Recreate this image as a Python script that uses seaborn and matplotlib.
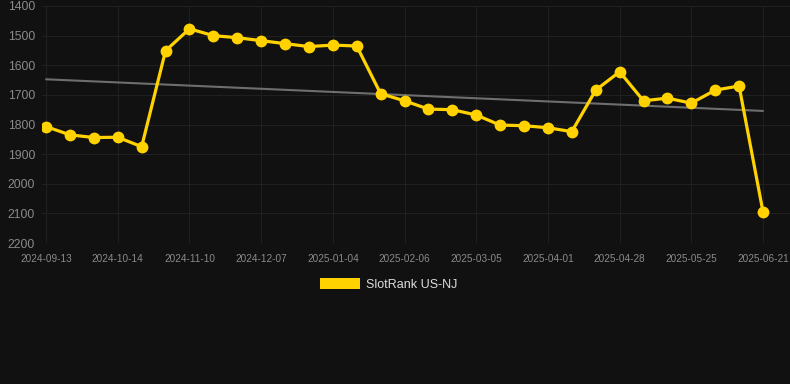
import numpy as np
import pandas as pd
import matplotlib
matplotlib.use('Agg')
import matplotlib.pyplot as plt
from matplotlib.patches import Patch
import seaborn as sns

# 数据
tick_labels = ['2024-09-13', '2024-10-14', '2024-11-10', '2024-12-07', '2025-01-04',
               '2025-02-06', '2025-03-05', '2025-04-01', '2025-04-28', '2025-05-25',
               '2025-06-21']
rank = [1807, 1835, 1844, 1843, 1875, 1551, 1477, 1500, 1507, 1517,
        1527, 1537, 1532, 1535, 1696, 1720, 1748, 1750, 1768, 1802,
        1804, 1811, 1824, 1684, 1622, 1720, 1711, 1728, 1684, 1670,
        2095]
series_name = 'SlotRank US-NJ'

idx = np.arange(len(rank))
df = pd.DataFrame({'idx': idx, 'rank': rank})

# 趋势线
k, b = np.polyfit(idx, rank, 1)
df['trend'] = k * df['idx'] + b

sns.set_style('dark')
bg = '#111111'
plt.rcParams['font.family'] = ['Liberation Sans', 'DejaVu Sans']

fig = plt.figure(figsize=(7.9, 3.84), dpi=100, facecolor=bg)
ax = fig.add_axes([42 / 790, 1 - 243 / 384, 748 / 790, 237 / 384])
ax.set_facecolor(bg)

sns.lineplot(data=df, x='idx', y='trend', ax=ax, color='#6e6e6e', linewidth=1.5)
sns.lineplot(data=df, x='idx', y='rank', ax=ax, color='#FFD200', linewidth=2.3,
             marker='o', markersize=8.5, markeredgewidth=0)

ax.set_ylim(2200, 1400)
ax.set_yticks(range(1400, 2201, 100))
ax.set_xlim(-0.17, 31.13)
ax.set_xticks(idx[::3])
ax.set_xticklabels(tick_labels)
ax.set_xlabel('')
ax.set_ylabel('')

ax.grid(True, color='#202020', linewidth=0.8)
ax.tick_params(axis='x', colors='#8a8a8a', labelsize=7.2, length=0, pad=8)
ax.tick_params(axis='y', colors='#8a8a8a', labelsize=8.8, length=0, pad=5)
for s in ax.spines.values():
    s.set_visible(False)

handle = Patch(facecolor='#FFD200', edgecolor='none')
fig.legend([handle], [series_name], loc='center', bbox_to_anchor=(0.4924, 0.26),
           frameon=False, fontsize=9, labelcolor='#dddddd',
           handlelength=3.2, handleheight=1.0, handletextpad=0.5)

plt.savefig('out.png', dpi=100, facecolor=bg)
